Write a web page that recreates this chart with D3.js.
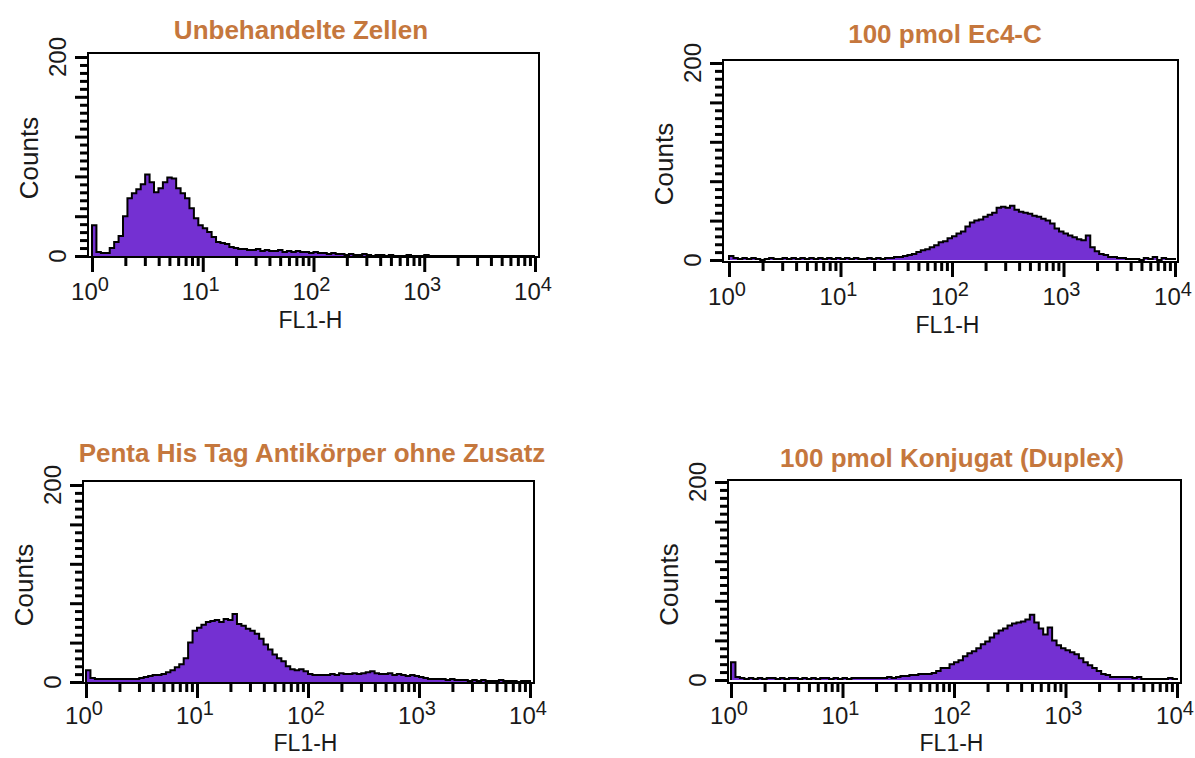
<!DOCTYPE html>
<html>
<head>
<meta charset="utf-8">
<script src="https://cdn.jsdelivr.net/npm/d3@7"></script>
<style>
  body { margin: 0; background: #fff; }
  text { font-family: Arial, 'Liberation Sans', sans-serif; }
</style>
</head>
<body>
<svg id="chart" width="1195" height="758"></svg>
<script>
// histogram counts, one value per channel; channels are 0.04 decades wide from 10^0 to 10^4
const binWidth = 0.04;

const countsUnbehandelt = [
  31, 4, 3, 3, 8, 14, 20, 40, 58, 63,
  67, 72, 82, 74, 64, 68, 74, 79, 78, 68,
  63, 58, 48, 38, 31, 28, 24, 19, 14, 13,
  12, 9, 8, 7, 7, 6, 6, 7, 5, 6,
  5, 5, 6, 4, 5, 4, 5, 4, 4, 3,
  4, 3, 3, 2, 3, 2, 2, 1, 2, 1,
  1, 2, 1, 0, 1, 1, 0, 1, 0, 0,
  0, 1, 0, 0, 0, 1, 0, 0, 0, 0,
  0, 0, 0, 0, 0, 0, 0, 0, 0, 0,
  0, 0, 0, 0, 0, 0, 0, 0, 0, 0
];

const countsEc4C = [
  4, 2, 1, 2, 1, 2, 1, 0, 1, 2,
  1, 1, 2, 1, 2, 1, 2, 1, 2, 1,
  2, 1, 2, 1, 2, 1, 2, 1, 2, 1,
  1, 2, 1, 2, 1, 2, 2, 3, 3, 4,
  5, 6, 8, 10, 11, 13, 15, 18, 19, 22,
  24, 27, 29, 34, 38, 40, 41, 44, 46, 48,
  53, 54, 53, 55, 51, 49, 48, 47, 45, 44,
  42, 40, 37, 32, 29, 27, 25, 23, 21, 20,
  25, 13, 9, 6, 5, 3, 3, 2, 2, 1,
  1, 1, 0, 2, 1, 3, 0, 2, 1, 1
];

const countsPenta = [
  12, 4, 3, 3, 3, 3, 3, 3, 3, 3,
  3, 3, 4, 5, 6, 7, 7, 8, 10, 12,
  15, 18, 24, 40, 52, 55, 58, 61, 62, 63,
  61, 64, 63, 69, 59, 57, 54, 52, 49, 44,
  38, 33, 28, 24, 21, 16, 13, 12, 13, 11,
  8, 7, 7, 7, 7, 8, 7, 9, 8, 8,
  9, 8, 9, 10, 11, 9, 8, 8, 9, 7,
  8, 7, 6, 7, 6, 5, 4, 3, 3, 3,
  3, 2, 3, 2, 2, 2, 1, 2, 1, 2,
  1, 1, 1, 2, 1, 1, 1, 0, 1, 1
];

const countsKonjugat = [
  18, 3, 2, 1, 2, 1, 2, 1, 2, 2,
  1, 2, 1, 2, 2, 1, 2, 1, 2, 1,
  2, 2, 1, 2, 1, 2, 1, 2, 2, 2,
  2, 2, 2, 2, 2, 3, 2, 3, 4, 4,
  5, 5, 6, 6, 6, 7, 9, 12, 12, 16,
  18, 20, 24, 27, 29, 32, 36, 39, 43, 47,
  50, 52, 55, 57, 58, 59, 61, 66, 58, 52,
  46, 53, 40, 35, 32, 30, 28, 26, 22, 18,
  15, 12, 9, 6, 5, 3, 3, 3, 3, 3,
  2, 3, 1, 1, 1, 1, 1, 1, 2, 1
];

const titles = [
  'Unbehandelte Zellen',
  '100 pmol Ec4-C',
  'Penta His Tag Antikörper ohne Zusatz',
  '100 pmol Konjugat (Duplex)'
];
const decadeTicks = [1, 10, 100, 1000, 10000];
const decadeExp = ['0', '1', '2', '3', '4'];
const countTicksMajor = [0, 40, 80, 120, 160, 200];
const countLabels = [0, 200];

// layout of each panel (box edges, axis ends, title position, tick label and x label baselines)
const layout = [
  { l: 88, r: 539, t: 53, b: 257, x0: 92, x1: 535, y0: 256, y1: 57, tx: 301, ty: 39, ly: 300, fy: 328 },
  { l: 723, r: 1178, t: 60, b: 262, x0: 729, x1: 1175, y0: 260, y1: 63, tx: 945, ty: 43, ly: 305, fy: 333 },
  { l: 83, r: 534, t: 481, b: 683, x0: 86, x1: 530, y0: 682, y1: 485, tx: 312, ty: 462, ly: 724, fy: 751 },
  { l: 728, r: 1181, t: 480, b: 683, x0: 731, x1: 1177, y0: 680, y1: 482, tx: 952, ty: 467, ly: 724, fy: 751 }
];
const allCounts = [countsUnbehandelt, countsEc4C, countsPenta, countsKonjugat];

const svg = d3.select('#chart');
const minorTicks = [];
for (let d = 0; d < 4; d++) {
  for (let k = 2; k <= 9; k++) minorTicks.push(k * Math.pow(10, d));
}
const countTicksMinor = d3.range(0, 201, 8).filter((v) => v % 40 !== 0);

function drawPanel(p, counts, title) {
  const g = svg.append('g');
  const x = d3.scaleLog().domain([1, 1e4]).range([p.x0, p.x1]);
  const y = d3.scaleLinear().domain([0, 200]).range([p.y0, p.y1]);

  // step outline of the histogram
  const pts = [[1, 0]];
  counts.forEach((c, i) => {
    pts.push([Math.pow(10, i * binWidth), c]);
    pts.push([Math.pow(10, (i + 1) * binWidth), c]);
  });
  pts.push([1e4, 0]);

  g.append('path')
    .datum(pts)
    .attr('fill', '#7430d2')
    .attr('d', d3.area().x((d) => x(d[0])).y0(y(0)).y1((d) => y(d[1])));
  g.append('path')
    .datum(pts)
    .attr('fill', 'none')
    .attr('stroke', '#000')
    .attr('stroke-width', 2)
    .attr('d', d3.line().x((d) => x(d[0])).y((d) => y(d[1])));

  g.append('rect')
    .attr('x', p.l)
    .attr('y', p.t)
    .attr('width', p.r - p.l)
    .attr('height', p.b - p.t)
    .attr('fill', 'none')
    .attr('stroke', '#000')
    .attr('stroke-width', 2);

  // x axis ticks
  const xa = g.append('g').attr('transform', 'translate(0,' + p.b + ')');
  xa.append('g').call(d3.axisBottom(x).tickValues(minorTicks).tickSize(9).tickFormat(''));
  xa.append('g').call(d3.axisBottom(x).tickValues(decadeTicks).tickSize(15).tickFormat(''));
  xa.selectAll('.domain').remove();
  xa.selectAll('line').attr('stroke', '#000').attr('stroke-width', 3);

  // y axis ticks
  const ya = g.append('g').attr('transform', 'translate(' + p.l + ',0)');
  ya.append('g').call(d3.axisLeft(y).tickValues(countTicksMinor).tickSize(8).tickFormat(''));
  ya.append('g').call(d3.axisLeft(y).tickValues(countTicksMajor).tickSize(13).tickFormat(''));
  ya.selectAll('.domain').remove();
  ya.selectAll('line').attr('stroke', '#000').attr('stroke-width', 3);

  // decade labels 10^n
  decadeTicks.forEach((v, i) => {
    const t = g.append('text')
      .attr('x', x(v) - 2)
      .attr('y', p.ly)
      .attr('text-anchor', 'middle')
      .attr('fill', '#1a1a1a')
      .style('font-size', '24px');
    t.append('tspan').text('10');
    t.append('tspan').attr('dy', -9).style('font-size', '20px').text(decadeExp[i]);
  });

  g.append('text')
    .attr('x', (p.l + p.r) / 2 - 3)
    .attr('y', p.fy)
    .attr('text-anchor', 'middle')
    .attr('fill', '#1a1a1a')
    .style('font-size', '23px')
    .text('FL1-H');

  countLabels.forEach((v) => {
    const cx = p.l - 22, cy = y(v);
    g.append('text')
      .attr('transform', 'translate(' + cx + ',' + cy + ') rotate(-90)')
      .attr('text-anchor', 'middle')
      .attr('fill', '#1a1a1a')
      .style('font-size', '24px')
      .text(v);
  });

  g.append('text')
    .attr('transform', 'translate(' + (p.l - 50) + ',' + ((p.t + p.b) / 2 + 3) + ') rotate(-90)')
    .attr('text-anchor', 'middle')
    .attr('fill', '#1a1a1a')
    .style('font-size', '26px')
    .text('Counts');

  g.append('text')
    .attr('x', p.tx)
    .attr('y', p.ty)
    .attr('text-anchor', 'middle')
    .attr('fill', '#c5773d')
    .style('font-size', '26px')
    .style('font-weight', 'bold')
    .text(title);
}

layout.forEach((p, i) => drawPanel(p, allCounts[i], titles[i]));
</script>
</body>
</html>
